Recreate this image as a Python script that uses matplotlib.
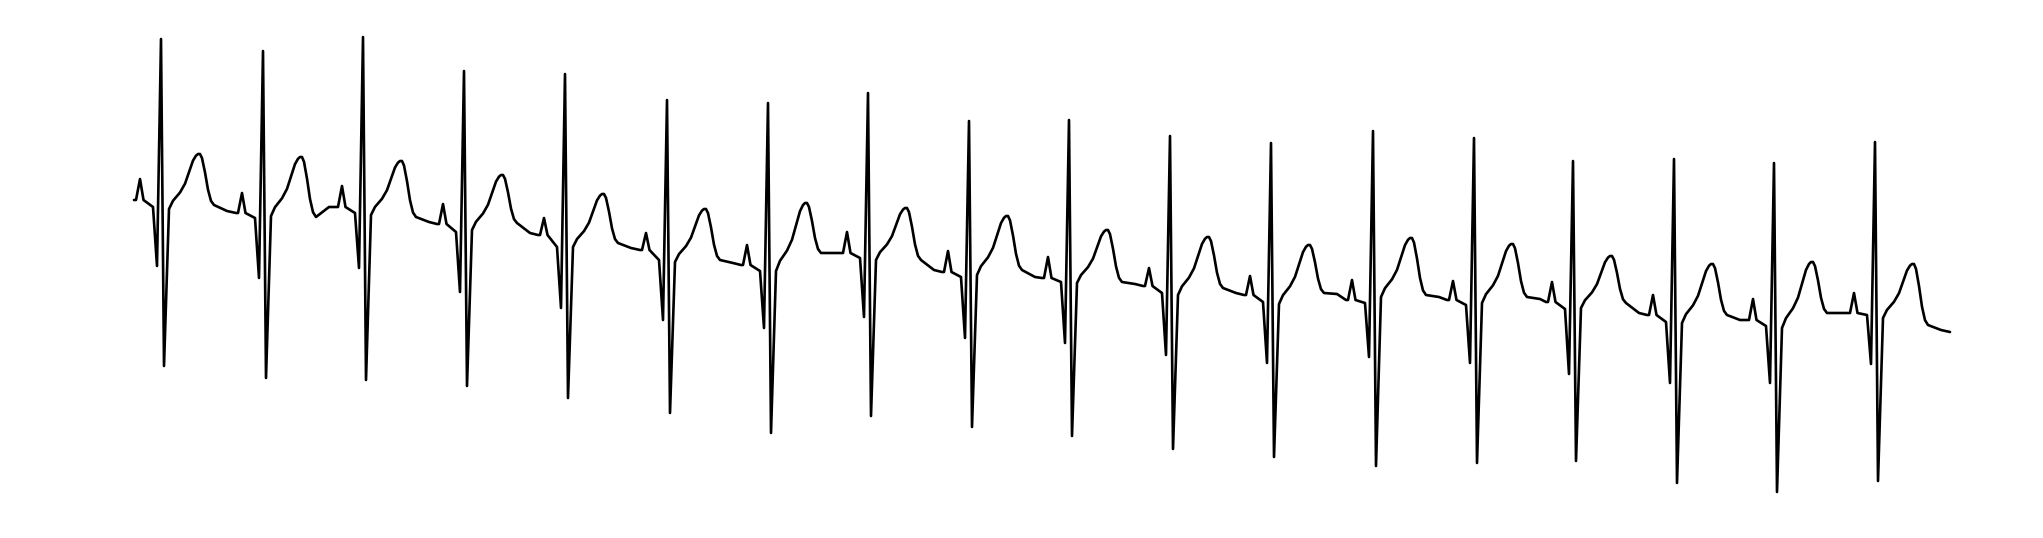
import matplotlib
matplotlib.use("Agg")
import matplotlib.pyplot as plt

# ---- data (time in ms, amplitude in mV) ----
r_time_ms = [240, 1056, 1856, 2664, 3472, 4288, 5096, 5896, 6704,
             7504, 8312, 9120, 9936, 10744, 11536, 12344, 13144, 13952]
pre_p_mv = [0.50, 0.37, 0.43, 0.26, 0.15, 0.00, -0.15, -0.03, -0.22,
            -0.28, -0.36, -0.45, -0.50, -0.50, -0.52, -0.65, -0.70, -0.63]
p_peak_mv = [0.71, 0.57, 0.64, 0.46, 0.32, 0.17, 0.05, 0.18, -0.01,
             -0.07, -0.18, -0.26, -0.30, -0.31, -0.32, -0.45, -0.49, -0.43]
pre_q_mv = [0.43, 0.32, 0.37, 0.18, 0.03, -0.10, -0.21, -0.08, -0.27,
            -0.32, -0.43, -0.52, -0.53, -0.55, -0.59, -0.72, -0.76, -0.65]
q_mv = [-0.16, -0.28, -0.18, -0.42, -0.58, -0.70, -0.78, -0.67, -0.88,
        -0.93, -1.05, -1.13, -1.07, -1.13, -1.24, -1.33, -1.33, -1.14]
r_mv = [2.11, 1.99, 2.13, 1.79, 1.76, 1.50, 1.47, 1.57, 1.29,
        1.30, 1.14, 1.07, 1.19, 1.12, 0.89, 0.91, 0.87, 1.08]
s_mv = [-1.16, -1.28, -1.30, -1.36, -1.48, -1.63, -1.83, -1.66, -1.77,
        -1.86, -1.99, -2.07, -2.16, -2.13, -2.11, -2.33, -2.42, -2.31]
j_mv = [0.41, 0.34, 0.35, 0.20, 0.03, -0.12, -0.21, -0.10, -0.25,
        -0.33, -0.45, -0.54, -0.47, -0.53, -0.58, -0.73, -0.78, -0.68]
t_peak_mv = [0.96, 0.93, 0.89, 0.75, 0.56, 0.41, 0.47, 0.42, 0.34,
             0.20, 0.13, 0.05, 0.12, 0.06, -0.06, -0.14, -0.12, -0.14]
t_end_mv = [0.45, 0.33, 0.33, 0.27, 0.07, -0.10, -0.03, -0.10, -0.20,
            -0.32, -0.38, -0.43, -0.45, -0.47, -0.53, -0.65, -0.63, -0.75]
base_mv = [0.39, 0.43, 0.28, 0.17, 0.02, -0.13, -0.03, -0.20, -0.27,
           -0.34, -0.43, -0.44, -0.47, -0.49, -0.63, -0.70, -0.63, -0.80]
trace_end_ms = 14552
trace_end_mv = -0.82

# T-wave contour (ms after R, fraction of the wave)
t_rise_ms = [96, 152, 192, 232, 256, 280, 296, 312]
t_rise_frac = [0.15, 0.30, 0.46, 0.72, 0.88, 0.97, 1.00, 1.00]
t_fall_ms = [328, 352, 376, 400]
t_fall_frac = [0.08, 0.36, 0.70, 0.92]
t_end_ms = 424
base_ms = 528

# P-wave contour (ms relative to R)
p_on_ms = -200
p_top_ms = -168
p_off_ms = -140

# ---- assemble the polyline ----
ts, vs = [], []
for i, rt in enumerate(r_time_ms):
    pts = [(-216, pre_p_mv[i]), (p_on_ms, pre_p_mv[i]), (p_top_ms, p_peak_mv[i]),
           (p_off_ms, pre_p_mv[i]), (-64, pre_q_mv[i]), (-32, q_mv[i]),
           (0, r_mv[i]), (24, s_mv[i]), (64, j_mv[i])]
    for off, f in zip(t_rise_ms, t_rise_frac):
        pts.append((off, j_mv[i] + f * (t_peak_mv[i] - j_mv[i])))
    for off, f in zip(t_fall_ms, t_fall_frac):
        pts.append((off, t_peak_mv[i] - f * (t_peak_mv[i] - t_end_mv[i])))
    pts.append((t_end_ms, t_end_mv[i]))
    pts.append((base_ms, base_mv[i]))
    for off, v in pts:
        ts.append(rt + off)
        vs.append(v)
ts.append(trace_end_ms)
vs.append(trace_end_mv)

fig = plt.figure(figsize=(20.43, 5.38), dpi=100)
ax = fig.add_axes([0, 0, 1, 1])
ax.plot(ts, vs, color="black", linewidth=1.9, solid_joinstyle="round",
        solid_capstyle="round")
ax.set_xlim(-1048, 15296)
ax.set_ylim(-2.88, 2.50)
ax.axis("off")
fig.savefig("out.png", dpi=100, facecolor="white")
